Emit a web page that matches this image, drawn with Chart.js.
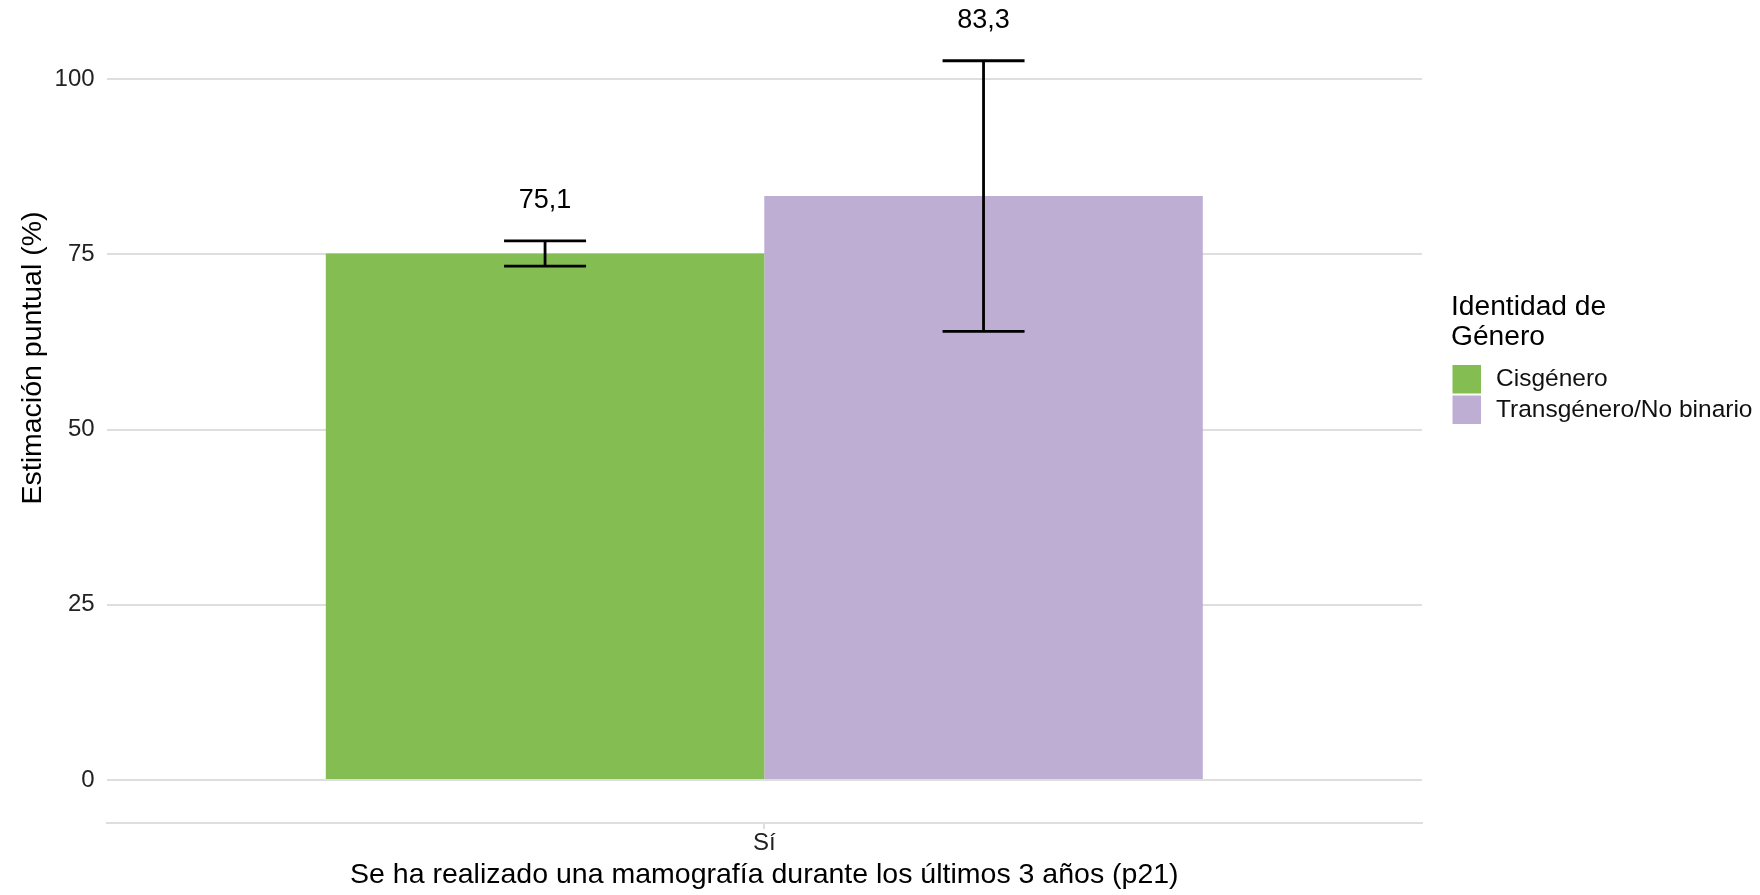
<!DOCTYPE html>
<html>
<head>
<meta charset="utf-8">
<script src="https://cdn.jsdelivr.net/npm/chart.js@4/dist/chart.umd.min.js"></script>
<style>
  html, body { margin: 0; padding: 0; background: #ffffff; }
  #wrap { width: 1760px; height: 895px; position: relative; }
</style>
</head>
<body>
<div id="wrap"><canvas id="c" width="1760" height="895"></canvas></div>
<script>
// ---- Data ----
const categories = ['Sí'];
const seriesNames = ['Cisgénero', 'Transgénero/No binario'];
const cisValues = [75.1];
const transValues = [83.3];
const cisLower = [73.3];
const cisUpper = [76.9];
const transLower = [64.0];
const transUpper = [102.6];
const yTickValues = [0, 25, 50, 75, 100];
const xTitle = 'Se ha realizado una mamografía durante los últimos 3 años (p21)';
const yTitle = 'Estimación puntual (%)';
const legendTitle = ['Identidad de', 'Género'];

// ---- Styles ----
const FONT = '"Liberation Sans", Arial, Helvetica, sans-serif';
const colors = ['#84BD51', '#BEAED4'];
const gridColor = '#DEDEDE';

const lowers = [cisLower, transLower];
const uppers = [cisUpper, transUpper];

const errorBarPlugin = {
  id: 'errorBars',
  afterDatasetsDraw(chart) {
    const ctx = chart.ctx;
    const y = chart.scales.y;
    chart.data.datasets.forEach((ds, i) => {
      const meta = chart.getDatasetMeta(i);
      meta.data.forEach((bar, j) => {
        const x = bar.x;
        const yTop = y.getPixelForValue(uppers[i][j]);
        const yBot = y.getPixelForValue(lowers[i][j]);
        const half = 41;
        ctx.save();
        ctx.strokeStyle = '#000000';
        ctx.lineWidth = 2.8;
        ctx.lineCap = 'butt';
        ctx.beginPath();
        ctx.moveTo(x, yTop); ctx.lineTo(x, yBot);
        ctx.moveTo(x - half, yTop); ctx.lineTo(x + half, yTop);
        ctx.moveTo(x - half, yBot); ctx.lineTo(x + half, yBot);
        ctx.stroke();
        ctx.fillStyle = '#000000';
        ctx.font = '27px ' + FONT;
        ctx.textAlign = 'center';
        ctx.textBaseline = 'middle';
        ctx.fillText(ds.data[j].toFixed(1).replace('.', ','), x, yTop - 40);
        ctx.restore();
      });
    });
  }
};

const decorPlugin = {
  id: 'decor',
  afterDraw(chart) {
    const ctx = chart.ctx;
    ctx.save();
    // y axis title
    ctx.translate(33, 358);
    ctx.rotate(-Math.PI / 2);
    ctx.fillStyle = '#000000';
    ctx.font = '28.5px ' + FONT;
    ctx.textAlign = 'center';
    ctx.textBaseline = 'middle';
    ctx.fillText(yTitle, 0, 0);
    ctx.restore();

    // legend
    ctx.save();
    ctx.fillStyle = '#000000';
    ctx.font = '28.2px ' + FONT;
    ctx.textAlign = 'left';
    ctx.textBaseline = 'alphabetic';
    legendTitle.forEach((t, k) => ctx.fillText(t, 1451, 315 + k * 30));
    ctx.textBaseline = 'middle';
    chart.data.datasets.forEach((ds, i) => {
      const top = 365 + i * 30.5;
      ctx.fillStyle = ds.backgroundColor;
      ctx.fillRect(1452.5, top, 28.5, 28.5);
      ctx.fillStyle = '#111111';
      ctx.font = '24.5px ' + FONT;
      ctx.fillText(ds.label, 1496, top + 14.5);
    });
    ctx.restore();
  }
};

new Chart(document.getElementById('c'), {
  type: 'bar',
  data: {
    labels: categories,
    datasets: [
      { label: seriesNames[0], data: cisValues, backgroundColor: colors[0] },
      { label: seriesNames[1], data: transValues, backgroundColor: colors[1] }
    ]
  },
  options: {
    responsive: false,
    animation: false,
    devicePixelRatio: 1,
    layout: { padding: { top: 20, right: 338, left: 0, bottom: 0 } },
    datasets: { bar: { categoryPercentage: 0.6667, barPercentage: 1.0, borderWidth: 0 } },
    plugins: { legend: { display: false }, tooltip: { enabled: false } },
    scales: {
      x: {
        grid: { display: true, drawOnChartArea: false, drawTicks: true, tickLength: 6, color: gridColor, lineWidth: 2, offset: false },
        border: { display: true, color: gridColor, width: 2 },
        ticks: { color: '#222222', font: { family: FONT, size: 24 }, padding: 0 },
        title: { display: true, text: xTitle, color: '#000000', font: { family: FONT, size: 28.5 }, padding: { top: 0, bottom: 3 } },
        afterFit(scale) { scale.height = 72; }
      },
      y: {
        min: -6.12,
        max: 107.5,
        afterBuildTicks(scale) { scale.ticks = yTickValues.map(v => ({ value: v })); },
        grid: { color: gridColor, lineWidth: 2, drawTicks: false },
        border: { display: false },
        ticks: { color: '#222222', font: { family: FONT, size: 24 }, padding: 12 },
        afterFit(scale) { scale.width = 106.6; }
      }
    }
  },
  plugins: [errorBarPlugin, decorPlugin]
});
</script>
</body>
</html>
